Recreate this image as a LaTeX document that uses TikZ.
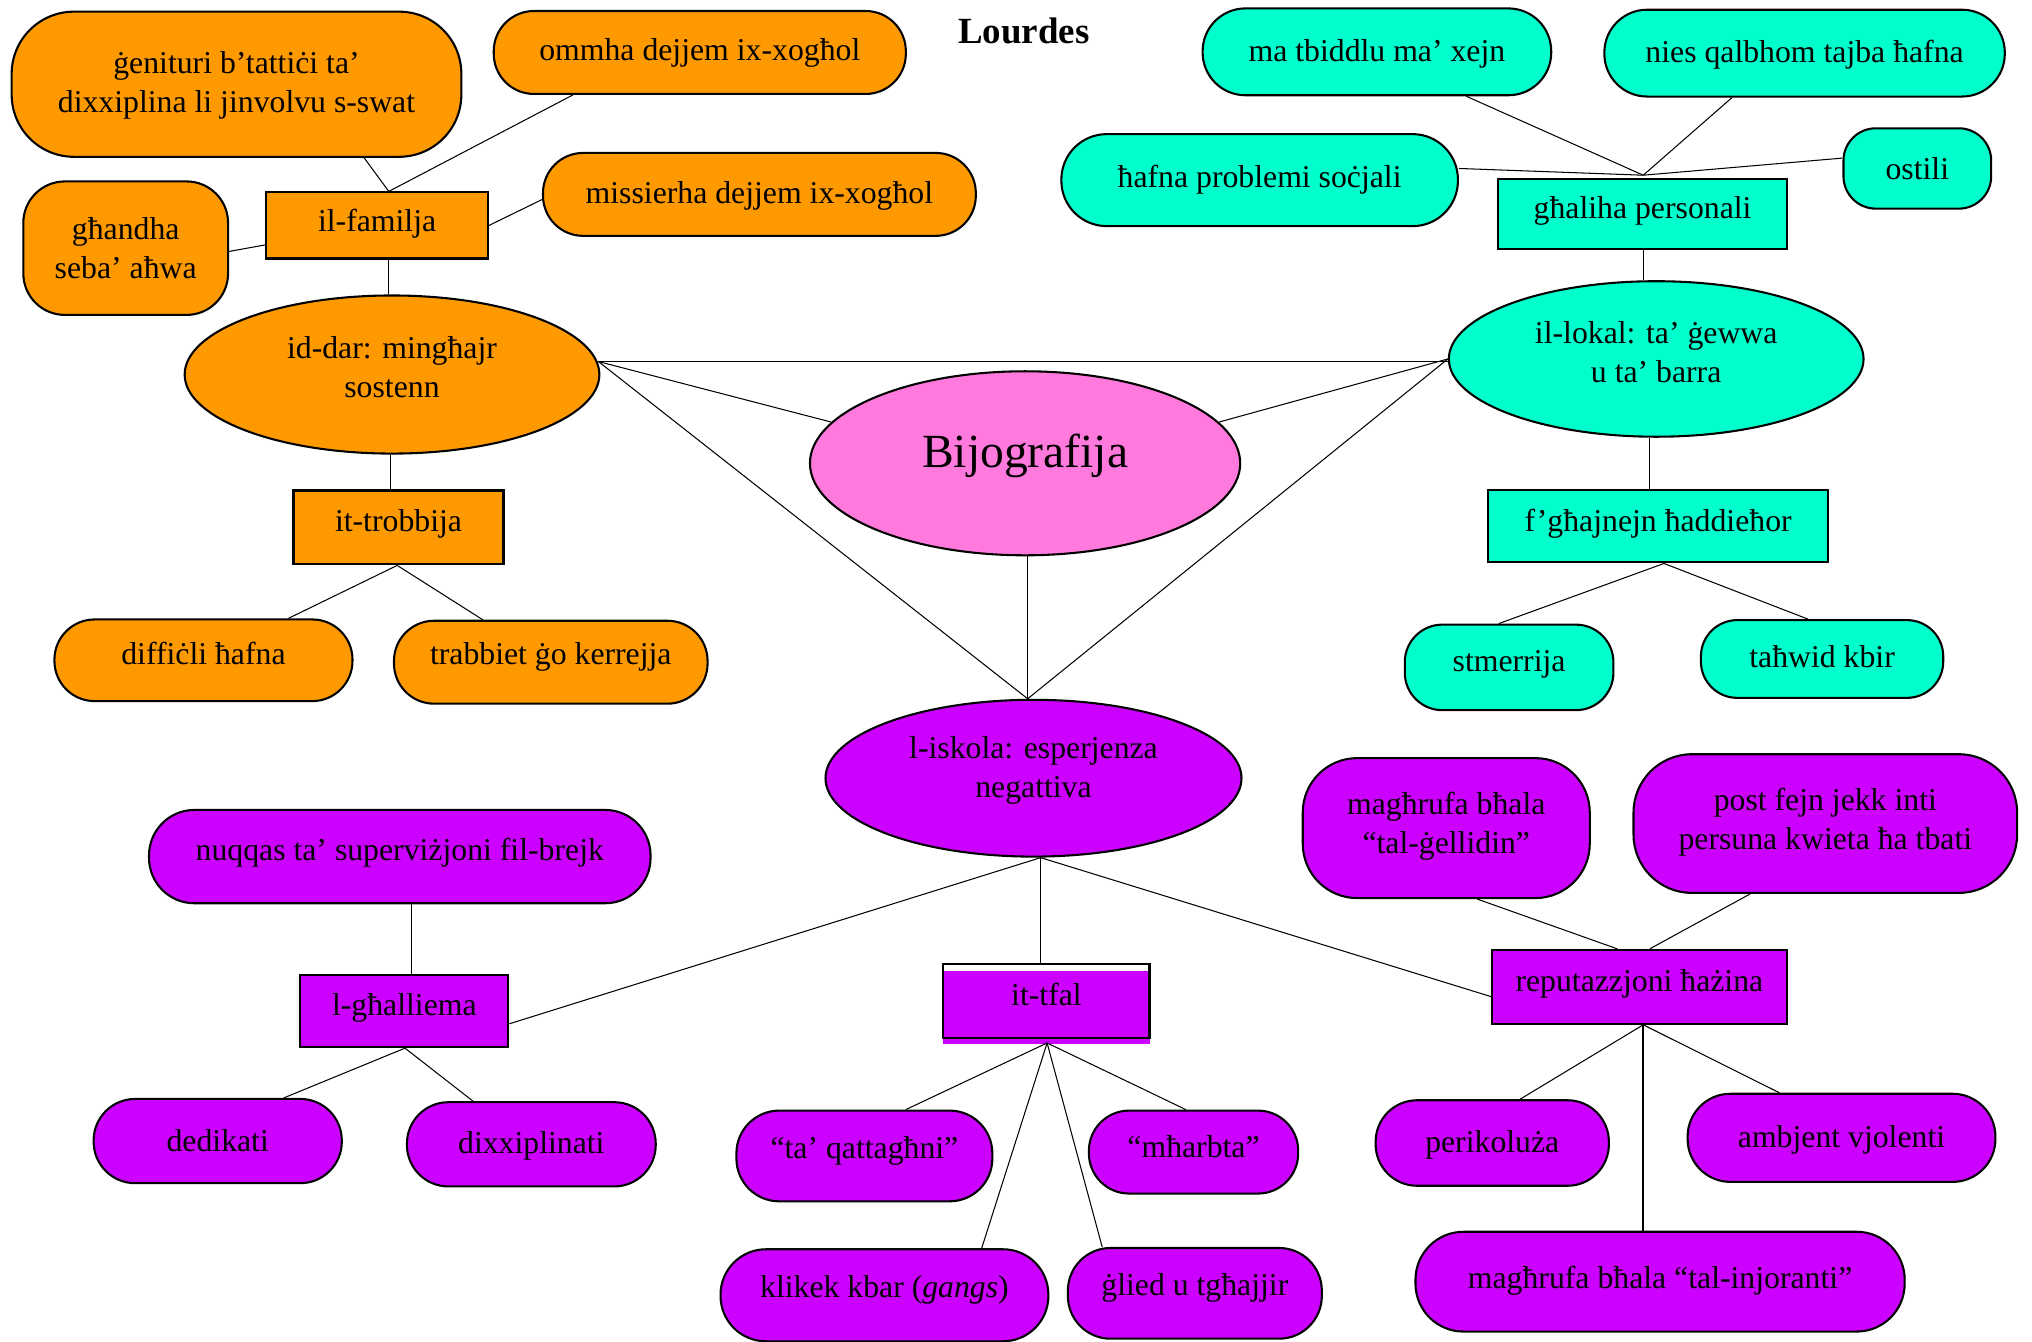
\documentclass[tikz,border=0pt]{standalone}
\usepackage{fontspec}
\setmainfont{Liberation Serif}
\usetikzlibrary{shapes.geometric,calc}
\definecolor{orC}{HTML}{FF9900}
\definecolor{cyC}{HTML}{00FFCC}
\definecolor{piC}{HTML}{FF7ADC}
\definecolor{puC}{HTML}{CC00FF}
\newcommand\liftt[2]{\raisebox{#1}[\height][\depth]{#2}}
\newcommand\twol[3]{\liftt{#1}{\begin{tabular}{@{}c@{}}#2\\#3\end{tabular}}}
\begin{document}
\begin{tikzpicture}[x=1pt,y=-1pt,
  txt/.style={font=\fontsize{24.5}{30}\selectfont, align=center, inner sep=0pt},
  bub/.style={txt, draw, line width=1.6pt, rounded corners=#1},
  boxn/.style={txt, draw, line width=1.6pt},
  ell/.style={txt, draw, ellipse, line width=1.6pt},
  con/.style={line width=0.8pt},
  mw/.style={minimum width=#1},
  mh/.style={minimum height=#1}]
\fill[white] (0,0) rectangle (1568,1035);
\useasboundingbox (0,0) rectangle (1568,1035);

\node[font=\fontsize{28.5}{34}\selectfont\bfseries] (title) at (790,24) {Lourdes};

% orange
\node[bub=48pt, fill=orC, mw=347pt, mh=112pt] (gen) at (182.5,65) {\twol{-0.5pt}{ġenituri b’tattiċi ta’}{dixxiplina li jinvolvu s-swat}};
\node[bub=31pt, fill=orC, mw=318pt, mh=64pt] (omm) at (540,40.5) {ommha dejjem ix-xogħol};
\node[bub=31pt, fill=orC, mw=334pt, mh=64pt] (mis) at (586,150) {\liftt{-1.5pt}{missierha dejjem ix-xogħol}};
\node[bub=32pt, fill=orC, mw=158pt, mh=103pt] (ghd) at (97,191.5) {\twol{-2.5pt}{għandha}{seba’ aħwa}};
\node[boxn, fill=orC, mw=171pt, mh=51pt] (fam) at (291,174) {\liftt{1pt}{il-familja}};
\node[ell, fill=orC, mw=320pt, mh=122pt] (dar) at (302.5,289) {\twol{3.5pt}{id-dar: mingħajr}{sostenn}};
\node[boxn, fill=orC, mw=162pt, mh=57pt] (trob) at (307.5,407) {\liftt{3pt}{it-trobbija}};
\node[bub=31pt, fill=orC, mw=230pt, mh=63pt] (diff) at (157,509.5) {\liftt{5.5pt}{diffiċli ħafna}};
\node[bub=31pt, fill=orC, mw=242pt, mh=64pt] (trab) at (425,511) {\liftt{4pt}{trabbiet ġo kerrejja}};

% centre
\node[ell, fill=piC, mw=332pt, mh=142pt, font=\fontsize{36.7}{44}\selectfont] (bij) at (791,357.5) {\liftt{6pt}{Bijografija}};

% cyan
\node[bub=33pt, fill=cyC, mw=269pt, mh=67pt] (ma) at (1062.5,40) {\liftt{-1.5pt}{ma tbiddlu ma’ xejn}};
\node[bub=33pt, fill=cyC, mw=309pt, mh=67pt] (nies) at (1392.5,41) {\liftt{-1.5pt}{nies qalbhom tajba ħafna}};
\node[bub=35pt, fill=cyC, mw=306pt, mh=71pt] (haf) at (972,139) {ħafna problemi soċjali};
\node[bub=25pt, fill=cyC, mw=114pt, mh=62pt] (ost) at (1479.5,130) {ostili};
\node[boxn, fill=cyC, mw=223pt, mh=54pt] (ghal) at (1267.5,165) {\liftt{2pt}{għaliha personali}};
\node[ell, fill=cyC, mw=320pt, mh=120pt] (lok) at (1278,277) {\twol{3pt}{il-lokal: ta’ ġewwa}{u ta’ barra}};
\node[boxn, fill=cyC, mw=262pt, mh=56pt] (fgh) at (1279.5,406) {\liftt{2pt}{f’għajnejn ħaddieħor}};
\node[bub=29pt, fill=cyC, mw=161pt, mh=66pt] (stm) at (1164.5,515) {\liftt{2pt}{stmerrija}};
\node[bub=28pt, fill=cyC, mw=187pt, mh=60pt] (tah) at (1406,508.5) {\liftt{2pt}{taħwid kbir}};

% purple
\node[ell, fill=puC, mw=321pt, mh=121pt] (isk) at (797.5,600.5) {\twol{6pt}{l-iskola: esperjenza}{negattiva}};
\node[bub=35pt, fill=puC, mw=387pt, mh=72pt] (nuq) at (308.5,661) {\liftt{3pt}{nuqqas ta’ superviżjoni fil-brejk}};
\node[boxn, fill=puC, mw=160.5pt, mh=56pt] (gha) at (312,780) {\liftt{2pt}{l-għalliema}};
\node[bub=32pt, fill=puC, mw=191.5pt, mh=65pt] (ded) at (168,880.5) {dedikati};
\node[bub=32pt, fill=puC, mw=192pt, mh=65pt] (dix) at (410,883) {\liftt{-1.5pt}{dixxiplinati}};
\fill[puC] (728,749) rectangle (887.5,805.5);
\node[boxn, mw=159pt, mh=57pt] (tfal) at (807.5,772.5) {\liftt{5pt}{it-tfal}};
\node[bub=33pt, fill=puC, mw=197.5pt, mh=70pt] (qat) at (667,892) {\liftt{4pt}{“ta’ qattagħni”}};
\node[bub=35pt, fill=puC, mw=253pt, mh=71pt] (kli) at (682.5,999.5) {\liftt{4pt}{klikek kbar (\textit{gangs})}};
\node[bub=31pt, fill=puC, mw=161.5pt, mh=64pt] (mha) at (921,889) {\liftt{4pt}{“mħarbta”}};
\node[bub=33pt, fill=puC, mw=196pt, mh=70pt] (gli) at (922,998) {\liftt{4pt}{ġlied u tgħajjir}};
\node[bub=42pt, fill=puC, mw=221.5pt, mh=108pt] (gel) at (1116,639) {\twol{1.5pt}{magħrufa bħala}{“tal-ġellidin”}};
\node[bub=45pt, fill=puC, mw=296pt, mh=107pt] (post) at (1408.5,635.5) {\twol{1pt}{post fejn jekk inti}{persuna kwieta ħa tbati}};
\node[boxn, fill=puC, mw=227.5pt, mh=57pt] (rep) at (1265,761.5) {\liftt{2pt}{reputazzjoni ħażina}};
\node[bub=32pt, fill=puC, mw=180pt, mh=66pt] (per) at (1151.5,882) {\liftt{-1.5pt}{perikoluża}};
\node[bub=33pt, fill=puC, mw=237.5pt, mh=68pt] (amb) at (1421,878) {\liftt{-1.5pt}{ambjent vjolenti}};
\node[bub=37pt, fill=puC, mw=377.5pt, mh=77pt] (inj) at (1281,989) {\liftt{1pt}{magħrufa bħala “tal-injoranti”}};

% junctions
\coordinate (famT) at ($(fam.north)+(9,0)$);
\coordinate (darE) at ($(dar.east)+(-1.5,-10)$);
\coordinate (iskT) at ($(isk.north)+(-4.5,0)$);
\coordinate (iskB) at ($(isk.south)+(5.5,0)$);
\coordinate (trobB) at ($(trob.south)+(-1,0)$);
\coordinate (ghaB) at ($(gha.south)+(0.5,0)$);
\coordinate (tfalB) at ($(tfal.south)+(0.5,3)$);
\coordinate (repB) at ($(rep.south)+(3,0)$);
\coordinate (ghalT) at ($(ghal.north)+(0.5,-2)$);
\coordinate (fghB) at ($(fgh.south)+(4.5,0)$);

% orange connectors
\draw[con] ($(gen.south)+(98.5,0)$) -- (famT);
\draw[con] ($(omm.south)+(-98,0)$) -- (famT);
\draw[con] ($(mis.west)+(0,4)$) -- (fam.east);
\draw[con] ($(ghd.east)+(0,2.5)$) -- ($(fam.west)+(0,15)$);
\draw[con] (famT |- fam.south) -- ($(dar.north)+(-2.5,0)$);
\draw[con] ($(dar.south)+(-1,0)$) -- ($(trob.north)+(-6,0)$);
\draw[con] (trobB) -- ($(diff.north)+(65.5,0)$);
\draw[con] (trobB) -- ($(trab.north)+(-52.5,0)$);

% central connectors
\draw[line width=1.1pt] (darE) -- (darE -| lok.west);
\draw[con] (darE) -- (bij.168.7);
\draw[con] (darE) -- (iskT);
\draw[con] (lok.west) -- (bij.12.3);
\draw[con] (lok.west) -- (iskT);
\draw[con] ($(bij.south)+(2,0)$) -- (iskT);

% cyan connectors
\draw[con] ($(ma.south)+(69,0)$) -- (ghalT);
\draw[con] ($(nies.south)+(-56,0)$) -- (ghalT);
\draw[con] ($(haf.east)+(0,-9)$) -- (ghalT);
\draw[con] ($(ost.west)+(0,-8)$) -- (ghalT);
\draw[con] ($(ghal.south)+(0.5,0)$) -- ($(lok.north)+(-10,0)$);
\draw[con] ($(lok.south)+(-5.5,0)$) -- ($(fgh.north)+(-7,0)$);
\draw[con] (fghB) -- ($(stm.north)+(-8,0)$);
\draw[con] (fghB) -- ($(tah.north)+(-11,0)$);

% purple connectors
\draw[con] (iskB) -- (iskB |- tfal.north);
\draw[con] (iskB) -- ($(gha.east)+(0,10)$);
\draw[con] (iskB) -- ($(rep.west)+(0,7.5)$);
\draw[con] ($(nuq.south)+(9,0)$) -- ($(gha.north)+(5.5,0)$);
\draw[con] (ghaB) -- ($(ded.north)+(51,0)$);
\draw[con] (ghaB) -- ($(dix.north)+(-45,0)$);
\draw[con] (tfalB) -- ($(qat.north)+(32,0)$);
\draw[con] (tfalB) -- ($(kli.north)+(75,0)$);
\draw[con] (tfalB) -- ($(mha.north)+(-6,0)$);
\draw[con] (tfalB) -- ($(gli.north)+(-71.5,0)$);
\draw[con] ($(gel.south)+(24,0)$) -- ($(rep.north)+(-17,0)$);
\draw[con] ($(post.south)+(-58,0)$) -- ($(rep.north)+(8,0)$);
\draw[con] (repB) -- ($(per.north)+(21.5,0)$);
\draw[con] (repB) -- ($(amb.north)+(-48,0)$);
\draw[line width=1.2pt] (repB) -- ($(inj.north)+(-13,0)$);
\end{tikzpicture}
\end{document}
